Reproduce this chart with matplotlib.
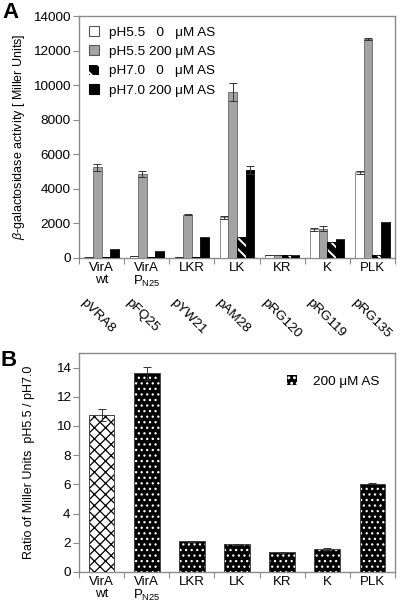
import matplotlib
matplotlib.use("Agg")
import matplotlib.pyplot as plt
import numpy as np
from matplotlib.patches import Patch

plt.rcParams['font.family'] = ['Liberation Sans', 'DejaVu Sans']
plt.rcParams['hatch.linewidth'] = 1.3
plt.rcParams['mathtext.fontset'] = 'custom'
plt.rcParams['mathtext.rm'] = 'Liberation Sans'
plt.rcParams['mathtext.it'] = 'Liberation Sans:italic'

# ---------------- data ----------------
categories = ['VirA\nwt', 'VirA\nP$_{\\mathregular{N25}}$', 'LKR', 'LK', 'KR', 'K', 'PLK']
plasmids = ['pVRA8', 'pFQ25', 'pYW21', 'pAM28', 'pRG120', 'pRG119', 'pRG135']

series_labels = ['pH5.5   0   μM AS', 'pH5.5 200 μM AS', 'pH7.0   0   μM AS', 'pH7.0 200 μM AS']
ph55_0 = [30, 100, 80, 2350, 200, 1650, 4950]
ph55_0_err = [0, 0, 0, 100, 0, 100, 100]
ph55_200 = [5250, 4850, 2500, 9600, 180, 1700, 12650]
ph55_200_err = [200, 180, 40, 500, 0, 130, 50]
ph70_0 = [50, 80, 50, 1200, 150, 950, 200]
ph70_200 = [500, 400, 1200, 5100, 150, 1100, 2100]
ph70_200_err = [0, 0, 0, 250, 0, 0, 0]

ratio = [10.75, 13.6, 2.1, 1.9, 1.35, 1.6, 6.05]
ratio_err = [0.4, 0.45, 0.05, 0.05, 0.03, 0.07, 0.03]
legend_b = '200 μM AS'


def set_hlw(container, lw):
    for p in container.patches if hasattr(container, 'patches') else container:
        if hasattr(p, 'set_hatch_linewidth'):
            p.set_hatch_linewidth(lw)


# ---------------- figure ----------------
fig = plt.figure(figsize=(4.0, 6.09), dpi=100)
axA = fig.add_axes([0.1975, 0.5764, 0.79, 0.3973])
axB = fig.add_axes([0.1975, 0.0608, 0.79, 0.3596])

spine_col = '#8a8a8a'
grey = '#a3a3a3'
x = np.arange(len(categories))
w = 0.19
ekw = dict(ecolor='#333333', elinewidth=0.7, capsize=2.6, capthick=0.7)

# Panel A bars
axA.bar(x - 1.5 * w, ph55_0, w, color='white', edgecolor='#777777', linewidth=0.6,
        yerr=ph55_0_err, error_kw=ekw, zorder=3)
axA.bar(x - 0.5 * w, ph55_200, w, color=grey, edgecolor='#666666', linewidth=0.6,
        yerr=ph55_200_err, error_kw=ekw, zorder=3)
with plt.rc_context({'hatch.linewidth': 1.4}):
    hb = axA.bar(x + 0.5 * w, ph70_0, w, color='black', edgecolor='white', linewidth=0,
                 hatch='\\\\\\', zorder=3)
    set_hlw(hb, 1.4)
axA.bar(x + 0.5 * w, ph70_0, w, fill=False, edgecolor='black', linewidth=0.6, zorder=4)
axA.bar(x + 1.5 * w, ph70_200, w, color='black', edgecolor='black', linewidth=0.6,
        yerr=ph70_200_err, error_kw=ekw, zorder=3)

with plt.rc_context({'hatch.linewidth': 1.6}):
    hp = Patch(facecolor='black', edgecolor='white', hatch='\\\\', linewidth=0)
    set_hlw([hp], 1.6)
handles = [Patch(facecolor='white', edgecolor='#555555', linewidth=0.8),
           Patch(facecolor=grey, edgecolor='#555555', linewidth=0.8),
           hp,
           Patch(facecolor='black', edgecolor='black', linewidth=0.8)]
axA.legend(handles, series_labels, loc='upper left', bbox_to_anchor=(0.0, 1.0),
           frameon=False, fontsize=9.7, handlelength=0.75, handleheight=0.75,
           handletextpad=0.7, labelspacing=0.5, borderaxespad=0.35)

axA.set_ylim(0, 14000)
axA.set_yticks(np.arange(0, 14001, 2000))
axA.set_ylabel('$\\it{\\beta}$-galactosidase activity [ Miller Units]', fontsize=9)
axA.yaxis.set_label_coords(-0.165, 0.5)

# Panel B bars
wb = 0.57
with plt.rc_context({'hatch.linewidth': 0.9}):
    b0 = axB.bar(x[:1], ratio[:1], wb, color='white', edgecolor='black', linewidth=0,
                 hatch='xxx', zorder=3)
    b1 = axB.bar(x[1:], ratio[1:], wb, color='black', edgecolor='white', linewidth=0,
                 hatch='...', zorder=3)
    set_hlw(b0, 0.9)
    set_hlw(b1, 0.9)
    lp = Patch(facecolor='black', edgecolor='white', hatch='...', linewidth=0)
    set_hlw([lp], 0.9)
axB.bar(x, ratio, wb, fill=False, edgecolor='#444444', linewidth=0.7,
        yerr=ratio_err, error_kw=ekw, zorder=4)
axB.set_ylim(0, 15)
axB.set_yticks(np.arange(0, 15, 2))
axB.set_ylabel('Ratio of Miller Units  pH5.5 / pH7.0', fontsize=9)
axB.yaxis.set_label_coords(-0.139, 0.5)
axB.legend([lp], [legend_b], loc='upper right', bbox_to_anchor=(0.99, 0.955),
           frameon=False, fontsize=9.7, handlelength=0.75, handleheight=0.75,
           handletextpad=1.2)

for ax in (axA, axB):
    ax.set_xlim(-0.5, len(categories) - 0.5)
    ax.set_xticks(x)
    ax.set_xticklabels(categories, fontsize=9.5, linespacing=0.95)
    ax.set_xticks(np.arange(-0.5, len(categories), 1.0), minor=True)
    ax.tick_params(axis='x', which='major', length=0, pad=3)
    ax.tick_params(axis='x', which='minor', length=4, color=spine_col, width=0.8)
    ax.tick_params(axis='y', length=4, color=spine_col, width=0.8, labelsize=9.7, pad=2)
    for s in ax.spines.values():
        s.set_color(spine_col)
        s.set_linewidth(1.0)

# plasmid names (rotated) under panel A
for xi, name in zip(x, plasmids):
    axA.text(xi - 0.33, -0.16, name, transform=axA.get_xaxis_transform(),
             rotation=-45, rotation_mode='anchor', ha='left', va='top', fontsize=9.7)

fig.text(0.005, 0.997, 'A', fontsize=16, fontweight='bold', ha='left', va='top')
fig.text(0.0, 0.426, 'B', fontsize=16, fontweight='bold', ha='left', va='top')

fig.savefig('out.png', dpi=100)
